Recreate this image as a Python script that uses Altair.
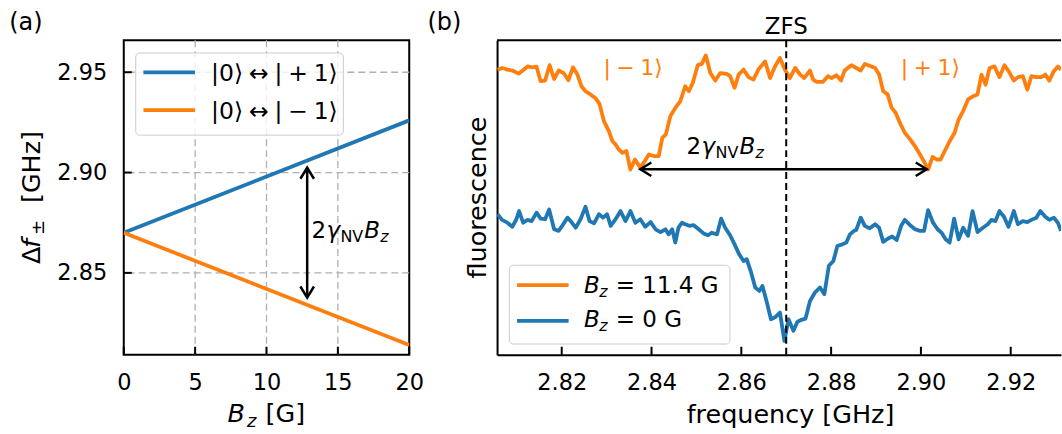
import altair as alt
import pandas as pd

FONT = "DejaVu Sans"
BLUE = "#1f77b4"
ORANGE = "#ff7f0e"
GRID = "#b0b0b0"
SP = "\u2005"

# ---------------- panel (a) data ----------------
bz_gauss = [0, 20]
f_plus_ghz = [2.870, 2.926]
f_minus_ghz = [2.870, 2.814]
a_x_ticks = [0, 5, 10, 15, 20]
a_y_ticks = [2.85, 2.90, 2.95]
a_x_grid = [5, 10, 15]
a_x_domain = [0, 20]
a_y_domain = [2.8092, 2.9659]
a_arrow_bz = 12.85
a_arrow_f = [2.9024, 2.8377]
a_label_pos = [13.15, 2.8674]
a_legend_labels = ["|0⟩" + SP + "↔" + SP + "|" + SP + "+" + SP + "1⟩",
                   "|0⟩" + SP + "↔" + SP + "|" + SP + "−" + SP + "1⟩"]

# ---------------- panel (b) data ----------------
freq_orange = [
    2.8057, 2.8068, 2.8079, 2.8090, 2.8104, 2.8113, 2.8124, 2.8135, 2.8144, 2.8153,
    2.8163, 2.8173, 2.8183, 2.8193, 2.8204, 2.8215, 2.8225, 2.8235, 2.8244, 2.8253,
    2.8264, 2.8276, 2.8284, 2.8294, 2.8305, 2.8313, 2.8320, 2.8327, 2.8335, 2.8344,
    2.8353, 2.8363, 2.8375, 2.8385, 2.8394, 2.8405, 2.8416, 2.8424, 2.8432, 2.8442,
    2.8453, 2.8464, 2.8475, 2.8483, 2.8492, 2.8503, 2.8512, 2.8521, 2.8531, 2.8542,
    2.8553, 2.8568, 2.8575, 2.8585, 2.8594, 2.8605, 2.8616, 2.8627, 2.8638, 2.8653,
    2.8664, 2.8675, 2.8686, 2.8697, 2.8708, 2.8720, 2.8731, 2.8740, 2.8753, 2.8760,
    2.8768, 2.8782, 2.8793, 2.8801, 2.8812, 2.8822, 2.8830, 2.8845, 2.8856, 2.8866,
    2.8875, 2.8890, 2.8898, 2.8907, 2.8916, 2.8926, 2.8935, 2.8944, 2.8953, 2.8964,
    2.8976, 2.8987, 2.8998, 2.9007, 2.9016, 2.9026, 2.9035, 2.9044, 2.9053, 2.9064,
    2.9075, 2.9084, 2.9094, 2.9105, 2.9116, 2.9126, 2.9135, 2.9144, 2.9153, 2.9164,
    2.9175, 2.9186, 2.9198, 2.9207, 2.9216, 2.9227, 2.9237, 2.9246, 2.9257, 2.9268,
    2.9277, 2.9286, 2.9296, 2.9305, 2.9312]
fl_orange = [
    0.907, 0.912, 0.907, 0.904, 0.894, 0.904, 0.917, 0.914, 0.916, 0.870,
    0.872, 0.921, 0.877, 0.904, 0.896, 0.873, 0.914, 0.891, 0.854, 0.838,
    0.828, 0.815, 0.798, 0.743, 0.711, 0.679, 0.669, 0.653, 0.642, 0.648,
    0.589, 0.621, 0.595, 0.616, 0.637, 0.632, 0.632, 0.690, 0.701, 0.759,
    0.785, 0.806, 0.854, 0.838, 0.865, 0.921, 0.925, 0.952, 0.896, 0.872,
    0.896, 0.893, 0.886, 0.849, 0.891, 0.907, 0.883, 0.875, 0.907, 0.933,
    0.880, 0.917, 0.944, 0.907, 0.880, 0.912, 0.891, 0.880, 0.904, 0.875,
    0.868, 0.868, 0.886, 0.880, 0.889, 0.872, 0.904, 0.921, 0.912, 0.904,
    0.925, 0.917, 0.912, 0.891, 0.838, 0.828, 0.785, 0.769, 0.738, 0.706,
    0.685, 0.663, 0.637, 0.614, 0.589, 0.629, 0.621, 0.621, 0.648, 0.679,
    0.706, 0.748, 0.775, 0.812, 0.822, 0.828, 0.891, 0.859, 0.912, 0.917,
    0.883, 0.921, 0.896, 0.872, 0.883, 0.886, 0.843, 0.886, 0.883, 0.883,
    0.891, 0.872, 0.902, 0.917, 0.907]

freq_blue = [
    2.8057, 2.8067, 2.8079, 2.8090, 2.8099, 2.8105, 2.8114, 2.8124, 2.8133, 2.8144,
    2.8153, 2.8163, 2.8172, 2.8183, 2.8193, 2.8201, 2.8213, 2.8220, 2.8231, 2.8242,
    2.8253, 2.8262, 2.8272, 2.8283, 2.8292, 2.8301, 2.8309, 2.8320, 2.8331, 2.8342,
    2.8353, 2.8364, 2.8375, 2.8386, 2.8398, 2.8409, 2.8420, 2.8431, 2.8438, 2.8446,
    2.8453, 2.8460, 2.8468, 2.8475, 2.8484, 2.8494, 2.8505, 2.8516, 2.8526, 2.8534,
    2.8546, 2.8555, 2.8564, 2.8575, 2.8585, 2.8595, 2.8605, 2.8612, 2.8622, 2.8631,
    2.8640, 2.8647, 2.8657, 2.8666, 2.8675, 2.8686, 2.8696, 2.8705, 2.8716, 2.8725,
    2.8734, 2.8743, 2.8753, 2.8764, 2.8775, 2.8785, 2.8795, 2.8805, 2.8814, 2.8825,
    2.8834, 2.8842, 2.8851, 2.8856, 2.8866, 2.8875, 2.8886, 2.8898, 2.8907, 2.8916,
    2.8926, 2.8936, 2.8946, 2.8956, 2.8964, 2.8976, 2.8987, 2.8998, 2.9007, 2.9016,
    2.9027, 2.9037, 2.9046, 2.9055, 2.9064, 2.9074, 2.9084, 2.9094, 2.9105, 2.9115,
    2.9126, 2.9138, 2.9149, 2.9157, 2.9166, 2.9175, 2.9185, 2.9195, 2.9207, 2.9216,
    2.9227, 2.9237, 2.9246, 2.9257, 2.9266, 2.9277, 2.9286, 2.9296, 2.9305, 2.9312]
fl_blue = [
    0.447, 0.429, 0.420, 0.407, 0.431, 0.457, 0.420, 0.429, 0.425, 0.452,
    0.433, 0.431, 0.462, 0.399, 0.394, 0.410, 0.436, 0.425, 0.404, 0.431,
    0.471, 0.425, 0.418, 0.447, 0.436, 0.447, 0.410, 0.431, 0.457, 0.425,
    0.457, 0.420, 0.431, 0.407, 0.422, 0.399, 0.390, 0.399, 0.383, 0.399,
    0.357, 0.404, 0.420, 0.415, 0.410, 0.412, 0.399, 0.386, 0.380, 0.388,
    0.383, 0.433, 0.404, 0.380, 0.351, 0.320, 0.298, 0.304, 0.261, 0.214,
    0.203, 0.219, 0.166, 0.113, 0.119, 0.134, 0.044, 0.113, 0.076, 0.105,
    0.111, 0.115, 0.171, 0.198, 0.214, 0.193, 0.283, 0.298, 0.346, 0.351,
    0.357, 0.383, 0.394, 0.397, 0.436, 0.410, 0.402, 0.415, 0.404, 0.359,
    0.369, 0.376, 0.365, 0.410, 0.429, 0.412, 0.399, 0.394, 0.394, 0.460,
    0.420, 0.399, 0.388, 0.367, 0.357, 0.433, 0.367, 0.404, 0.378, 0.457,
    0.390, 0.404, 0.415, 0.429, 0.425, 0.457, 0.439, 0.407, 0.457, 0.415,
    0.425, 0.422, 0.429, 0.436, 0.457, 0.439, 0.429, 0.436, 0.420, 0.394]

b_x_ticks = [2.82, 2.84, 2.86, 2.88, 2.90, 2.92]
b_x_domain = [2.8056, 2.9312]
b_y_domain = [0, 1]
zfs_ghz = 2.87
b_arrow_f = [2.8375, 2.9013]
b_arrow_y = 0.590
b_label_pos = [2.8478, 0.640]
minus_label_pos = [2.8359, 0.891]
plus_label_pos = [2.9021, 0.891]
b_legend_values = ["= 11.4 G", "= 0 G"]

# ---------------- helpers ----------------
ONE = pd.DataFrame({"k": [0]})
CHEVRON = "M -1.3 -0.8 L 0 0 L -1.3 0.8"
TICK_FS = 22.5
TITLE_FS = 25.5
ANN_FS = 23


def seg_text(df, x, y, segs, angle=0, color="black"):
    out = []
    for txt, dx, dy, fs, it in segs:
        out.append(
            alt.Chart(df).mark_text(
                text=txt, dx=dx, dy=dy, fontSize=fs, font=FONT,
                fontStyle="italic" if it else "normal",
                align="left", baseline="alphabetic", angle=angle, color=color,
            ).encode(x=x, y=y)
        )
    return out


# ================= panel (a) =================
WA, HA = 286, 315
SXA = alt.Scale(domain=a_x_domain, nice=False, zero=False)
SYA = alt.Scale(domain=a_y_domain, nice=False, zero=False)
AXA = alt.Axis(values=a_x_ticks, format="d", title=None, grid=False, ticks=False, domain=False,
               labelPadding=17, labelFlush=False, labelFont=FONT,
               labelFontSize=TICK_FS, labelColor="black")
AYA = alt.Axis(values=a_y_ticks, format=".2f", title=None, grid=False, ticks=False, domain=False,
               labelPadding=17, labelFont=FONT, labelFontSize=TICK_FS, labelColor="black")


def xa(f):
    return alt.X(f, type="quantitative", scale=SXA, axis=AXA)


def ya(f):
    return alt.Y(f, type="quantitative", scale=SYA, axis=AYA)


grid_xa = alt.Chart(pd.DataFrame({"B": a_x_grid})).mark_rule(
    color=GRID, strokeWidth=1.3, strokeDash=[7, 4]).encode(x=xa("B"))
grid_ya = alt.Chart(pd.DataFrame({"f": a_y_ticks})).mark_rule(
    color=GRID, strokeWidth=1.3, strokeDash=[7, 4]).encode(y=ya("f"))

df_plus = pd.DataFrame({"B": bz_gauss, "f": f_plus_ghz})
df_minus = pd.DataFrame({"B": bz_gauss, "f": f_minus_ghz})

line_plus = alt.Chart(df_plus).mark_line(color=BLUE, strokeWidth=3.8, clip=True).encode(x=xa("B"), y=ya("f"))
line_minus = alt.Chart(df_minus).mark_line(color=ORANGE, strokeWidth=3.8, clip=True).encode(x=xa("B"), y=ya("f"))

ticks_xa = alt.Chart(pd.DataFrame({"B": a_x_ticks})).mark_rule(color="black", strokeWidth=2).encode(
    x=xa("B"), y=alt.value(HA), y2=alt.value(HA - 8))
ticks_ya = alt.Chart(pd.DataFrame({"f": a_y_ticks})).mark_rule(color="black", strokeWidth=2).encode(
    y=ya("f"), x=alt.value(0), x2=alt.value(8))

df_arr_a = pd.DataFrame({"B": [a_arrow_bz], "f": [a_arrow_f[0]], "f2": [a_arrow_f[1]]})
arrow_a = alt.Chart(df_arr_a).mark_rule(color="black", strokeWidth=2.5).encode(
    x=xa("B"), y=ya("f"), y2="f2:Q")
df_heads_a = pd.DataFrame({"B": [a_arrow_bz, a_arrow_bz], "f": a_arrow_f, "ang": [270, 90]})
heads_a = alt.Chart(df_heads_a).mark_point(
    shape=CHEVRON, filled=False, color="black", strokeWidth=2.5, size=289, opacity=1,
    strokeJoin="miter").encode(x=xa("B"), y=ya("f"), angle=alt.Angle("ang:Q", scale=None))

df_lab_a = pd.DataFrame({"B": [a_label_pos[0]], "f": [a_label_pos[1]]})
label_a = seg_text(df_lab_a, xa("B"), ya("f"), [
    ("2", 0, 0, ANN_FS, False), ("γ", 15, 0, ANN_FS, True), ("NV", 29, 4, 16, False),
    ("B", 53, 0, ANN_FS, True), ("z", 69, 4, 16, True)])

# legend (a)
leg_a = [
    alt.Chart(ONE).mark_rect(fill="white", fillOpacity=0.8, stroke="#cccccc", strokeWidth=1,
                             cornerRadius=4).encode(
        x=alt.value(12), x2=alt.value(220), y=alt.value(12.7), y2=alt.value(95)),
    alt.Chart(ONE).mark_rule(color=BLUE, strokeWidth=3.8).encode(
        x=alt.value(19.7), x2=alt.value(71.3), y=alt.value(32)),
    alt.Chart(ONE).mark_rule(color=ORANGE, strokeWidth=3.8).encode(
        x=alt.value(19.7), x2=alt.value(71.3), y=alt.value(70)),
    alt.Chart(ONE).mark_text(text=a_legend_labels[0], font=FONT, fontSize=23.5, align="left",
                             baseline="alphabetic", color="black").encode(
        x=alt.value(87.5), y=alt.value(41)),
    alt.Chart(ONE).mark_text(text=a_legend_labels[1], font=FONT, fontSize=23.5, align="left",
                             baseline="alphabetic", color="black").encode(
        x=alt.value(87.5), y=alt.value(79.3)),
]

ytitle_a = seg_text(ONE, alt.value(-84), alt.value(224), [
    ("Δ", 0, 0, TITLE_FS, False), ("f", 16, 0, TITLE_FS, True), ("±", 29, 4, 18, False),
    ("[GHz]", 61, 0, TITLE_FS, False)], angle=270)
xtitle_a = seg_text(ONE, alt.value(104), alt.value(382.7), [
    ("B", 0, 0, TITLE_FS, True), ("z", 19.5, 5, 18, True), ("[G]", 38, 0, TITLE_FS, False)])
tag_a = alt.Chart(ONE).mark_text(text="(a)", font=FONT, fontSize=24, align="left",
                                 baseline="alphabetic", color="black").encode(
    x=alt.value(-114.7), y=alt.value(-10))

panel_a = alt.layer(
    grid_xa, grid_ya, line_plus, line_minus, ticks_xa, ticks_ya, arrow_a, heads_a, *label_a,
    *leg_a, *ytitle_a, *xtitle_a, tag_a,
).properties(width=WA, height=HA, view=alt.ViewBackground(stroke="black", strokeWidth=2))

# ================= panel (b) =================
WB, HB = 565, 315
SXB = alt.Scale(domain=b_x_domain, nice=False, zero=False)
SYB = alt.Scale(domain=b_y_domain, nice=False, zero=False)
AXB = alt.Axis(values=b_x_ticks, format=".2f", title=None, grid=False, ticks=False,
               domain=True, domainColor="black", domainWidth=2, labelPadding=17,
               labelFlush=False, labelFont=FONT, labelFontSize=TICK_FS, labelColor="black")
AYB = alt.Axis(labels=False, ticks=False, grid=False, domain=True, domainColor="black",
               domainWidth=2, title=None)


def xb(f):
    return alt.X(f, type="quantitative", scale=SXB, axis=AXB)


def yb(f):
    return alt.Y(f, type="quantitative", scale=SYB, axis=AYB)


df_or = pd.DataFrame({"fr": freq_orange, "v": fl_orange})
df_bl = pd.DataFrame({"fr": freq_blue, "v": fl_blue})
line_or = alt.Chart(df_or).mark_line(color=ORANGE, strokeWidth=3.8, clip=True,
                                     strokeJoin="round").encode(x=xb("fr"), y=yb("v"))
line_bl = alt.Chart(df_bl).mark_line(color=BLUE, strokeWidth=3.8, clip=True,
                                     strokeJoin="round").encode(x=xb("fr"), y=yb("v"))

zfs_rule = alt.Chart(pd.DataFrame({"fr": [zfs_ghz]})).mark_rule(
    color="black", strokeWidth=2, strokeDash=[7, 4]).encode(x=xb("fr"))
zfs_text = alt.Chart(pd.DataFrame({"fr": [zfs_ghz]})).mark_text(
    text="ZFS", font=FONT, fontSize=ANN_FS, align="center", baseline="alphabetic",
    color="black").encode(x=xb("fr"), y=alt.value(-6))

ticks_xb = alt.Chart(pd.DataFrame({"fr": b_x_ticks})).mark_rule(color="black", strokeWidth=2).encode(
    x=xb("fr"), y=alt.value(HB), y2=alt.value(HB - 8))
top_spine = alt.Chart(ONE).mark_rule(color="black", strokeWidth=2).encode(
    x=alt.value(0), x2=alt.value(WB), y=alt.value(0))

df_arr_b = pd.DataFrame({"fr": [b_arrow_f[0]], "fr2": [b_arrow_f[1]], "v": [b_arrow_y]})
arrow_b = alt.Chart(df_arr_b).mark_rule(color="black", strokeWidth=2.5).encode(
    x=xb("fr"), x2="fr2:Q", y=yb("v"))
df_heads_b = pd.DataFrame({"fr": b_arrow_f, "v": [b_arrow_y, b_arrow_y], "ang": [180, 0]})
heads_b = alt.Chart(df_heads_b).mark_point(
    shape=CHEVRON, filled=False, color="black", strokeWidth=2.5, size=289, opacity=1,
    strokeJoin="miter").encode(x=xb("fr"), y=yb("v"), angle=alt.Angle("ang:Q", scale=None))

df_lab_b = pd.DataFrame({"fr": [b_label_pos[0]], "v": [b_label_pos[1]]})
label_b = seg_text(df_lab_b, xb("fr"), yb("v"), [
    ("2", 0, 0, ANN_FS, False), ("γ", 15, 0, ANN_FS, True), ("NV", 29, 4, 16, False),
    ("B", 53, 0, ANN_FS, True), ("z", 69, 4, 16, True)])

df_minus_lab = pd.DataFrame({"fr": [minus_label_pos[0]], "v": [minus_label_pos[1]]})
df_plus_lab = pd.DataFrame({"fr": [plus_label_pos[0]], "v": [plus_label_pos[1]]})
minus_lab = alt.Chart(df_minus_lab).mark_text(
    text="|" + SP + "−" + SP + "1⟩", font=FONT, fontSize=22, align="center",
    baseline="alphabetic", color=ORANGE).encode(x=xb("fr"), y=yb("v"))
plus_lab = alt.Chart(df_plus_lab).mark_text(
    text="|" + SP + "+" + SP + "1⟩", font=FONT, fontSize=22, align="center",
    baseline="alphabetic", color=ORANGE).encode(x=xb("fr"), y=yb("v"))

# legend (b)
leg_b = [
    alt.Chart(ONE).mark_rect(fill="white", fillOpacity=0.8, stroke="#cccccc", strokeWidth=1,
                             cornerRadius=4).encode(
        x=alt.value(12.3), x2=alt.value(233.3), y=alt.value(225.3), y2=alt.value(304.3)),
    alt.Chart(ONE).mark_rule(color=ORANGE, strokeWidth=3.8).encode(
        x=alt.value(20), x2=alt.value(71.7), y=alt.value(245.3)),
    alt.Chart(ONE).mark_rule(color=BLUE, strokeWidth=3.8).encode(
        x=alt.value(20), x2=alt.value(71.7), y=alt.value(281)),
]
leg_b += seg_text(ONE, alt.value(87), alt.value(252.7), [
    ("B", 0, 0, ANN_FS, True), ("z", 15.5, 4, 16, True), (b_legend_values[0], 32, 0, ANN_FS, False)])
leg_b += seg_text(ONE, alt.value(87), alt.value(287.7), [
    ("B", 0, 0, ANN_FS, True), ("z", 15.5, 4, 16, True), (b_legend_values[1], 32, 0, ANN_FS, False)])

xtitle_b = alt.Chart(ONE).mark_text(text="frequency [GHz]", font=FONT, fontSize=TITLE_FS,
                                    align="center", baseline="alphabetic", color="black").encode(
    x=alt.value(294), y=alt.value(383))
ytitle_b = alt.Chart(ONE).mark_text(text="fluorescence", font=FONT, fontSize=TITLE_FS,
                                    align="center", baseline="alphabetic", angle=270,
                                    color="black").encode(x=alt.value(-11), y=alt.value(157.5))
tag_b = alt.Chart(ONE).mark_text(text="(b)", font=FONT, fontSize=24, align="left",
                                 baseline="alphabetic", color="black").encode(
    x=alt.value(-69.7), y=alt.value(-10))

panel_b = alt.layer(
    line_or, line_bl, zfs_rule, zfs_text, ticks_xb, top_spine, arrow_b, heads_b, *label_b,
    minus_lab, plus_lab, *leg_b, xtitle_b, ytitle_b, tag_b,
).properties(width=WB, height=HB, view=alt.ViewBackground(stroke="transparent", strokeWidth=0))

chart = alt.hconcat(panel_a, panel_b, spacing=2).properties(
    padding={"left": 8, "top": 10, "right": 0, "bottom": 0},
    background="white",
).configure_text(font=FONT)

chart.save("out.html", embed_options={"renderer": "svg", "actions": False})
